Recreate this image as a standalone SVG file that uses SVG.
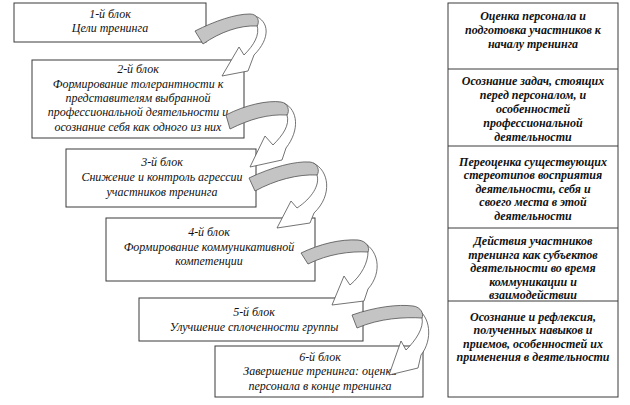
<svg xmlns="http://www.w3.org/2000/svg" width="630" height="405" viewBox="0 0 630 405">
<style>
.box{fill:#fff;stroke:#3a3a3a;stroke-width:1}
.t{font-family:"Liberation Serif","DejaVu Serif",serif;font-style:italic;font-size:12px;fill:#111;text-anchor:middle}
.r{font-family:"Liberation Serif","DejaVu Serif",serif;font-style:italic;font-weight:bold;font-size:12px;fill:#111;text-anchor:middle}
.aw{fill:#fff;stroke:#505050;stroke-width:0.8;stroke-linejoin:miter}
.ab{fill:#c4c4c4;stroke:#505050;stroke-width:0.8}
.div{stroke:#3a3a3a;stroke-width:1}
</style>
<rect width="630" height="405" fill="#fff"/>
<g id="block1">
<rect class="box" x="14" y="3" width="192" height="39"/>
<text class="t" x="110" y="18">1-й блок</text>
<text class="t" x="110" y="32">Цели тренинга</text>
</g>
<g id="block2">
<rect class="box" x="32" y="60" width="212" height="78"/>
<text class="t" x="138" y="73">2-й блок</text>
<text class="t" x="138" y="88">Формирование толерантности к</text>
<text class="t" x="138" y="102">представителям выбранной</text>
<text class="t" x="138" y="116">профессиональной деятельности и</text>
<text class="t" x="138" y="131">осознание себя как одного из них</text>
</g>
<g id="block3">
<rect class="box" x="66" y="149" width="190" height="58"/>
<text class="t" x="162" y="166">3-й блок</text>
<text class="t" x="162" y="181">Снижение и контроль агрессии</text>
<text class="t" x="162" y="196">участников тренинга</text>
</g>
<g id="block4">
<rect class="box" x="106" y="218" width="209" height="63"/>
<text class="t" x="209" y="236">4-й блок</text>
<text class="t" x="209" y="251">Формирование коммуникативной</text>
<text class="t" x="209" y="265">компетенции</text>
</g>
<g id="block5">
<rect class="box" x="139" y="298" width="224" height="43"/>
<text class="t" x="254" y="316">5-й блок</text>
<text class="t" x="254" y="331">Улучшение сплоченности группы</text>
</g>
<g id="block6">
<rect class="box" x="215" y="346" width="208" height="51"/>
<text class="t" x="320" y="361">6-й блок</text>
<text class="t" x="320" y="375">Завершение тренинга: оценка</text>
<text class="t" x="320" y="390">персонала в конце тренинга</text>
</g>
<g id="connectors">
<g id="arrow1">
<path class="aw" d="M255,16 C269,21 271,38 254,55 L248,71 L222,76 L239,47 L244,55 C254,45 260,35 257,25 Z"/>
<path class="ab" d="M195,31 C215,21 235,14 250,14 C258,14 260,22 257,26 C240,25 220,32 203,44 Z"/>
</g>
<g id="arrow2">
<path class="aw" d="M284,103 C298,110 300,130 286,148 L282,160 L250,167 L265,136 L273,145 C283,135 290,125 287,115 Z"/>
<path class="ab" d="M226,115 C245,105 268,100 281,102 C288,103 290,111 287,115 C268,114 250,119 230,129 Z"/>
</g>
<g id="arrow3">
<path class="aw" d="M313,163 C329,170 333,195 314,213 L310,223 L277,228 L291,201 L297,208 C312,198 320,185 317,175 Z"/>
<path class="ab" d="M249,178 C272,167 295,161 310,162 C318,163 320,171 317,175 C298,174 275,180 255,191 Z"/>
</g>
<g id="arrow4">
<path class="aw" d="M360,241 C379,248 383,272 368,289 L364,301 L332,305 L344,276 L350,285 C362,275 368,262 368,252 Z"/>
<path class="ab" d="M301,253 C320,244 340,239 358,240 C367,241 370,248 368,252 C350,251 328,254 308,264 Z"/>
</g>
<g id="arrow5">
<path class="aw" d="M415,308 C431,315 433,340 421,355 L418,368 L389,375 L401,341 L406,350 C416,340 424,328 422,318 Z"/>
<path class="ab" d="M352,315 C375,307 398,304 413,306 C421,307 424,314 422,318 C405,317 380,318 357,328 Z"/>
</g>
</g>
<g id="stages">
<rect class="box" x="448" y="3" width="170" height="394"/>
<line class="div" x1="448" y1="69" x2="618" y2="69"/>
<line class="div" x1="448" y1="146" x2="618" y2="146"/>
<line class="div" x1="448" y1="228" x2="618" y2="228"/>
<line class="div" x1="448" y1="301" x2="618" y2="301"/>
<g id="stage1">
<text class="r" x="533" y="20">Оценка персонала и</text>
<text class="r" x="533" y="34">подготовка участников к</text>
<text class="r" x="533" y="48">началу тренинга</text>
</g>
<g id="stage2">
<text class="r" x="533" y="85">Осознание задач, стоящих</text>
<text class="r" x="533" y="99">перед персоналом, и</text>
<text class="r" x="533" y="113">особенностей</text>
<text class="r" x="533" y="127">профессиональной</text>
<text class="r" x="533" y="141">деятельности</text>
</g>
<g id="stage3">
<text class="r" x="533" y="166">Переоценка существующих</text>
<text class="r" x="533" y="179">стереотипов восприятия</text>
<text class="r" x="533" y="193">деятельности, себя и</text>
<text class="r" x="533" y="206">своего места в этой</text>
<text class="r" x="533" y="220">деятельности</text>
</g>
<g id="stage4">
<text class="r" x="533" y="245">Действия участников</text>
<text class="r" x="533" y="259">тренинга как субъектов</text>
<text class="r" x="533" y="272">деятельности во время</text>
<text class="r" x="533" y="286">коммуникации и</text>
<text class="r" x="533" y="299">взаимодействии</text>
</g>
<g id="stage5">
<text class="r" x="533" y="321">Осознание и рефлексия,</text>
<text class="r" x="533" y="334">полученных навыков и</text>
<text class="r" x="533" y="348">приемов, особенностей их</text>
<text class="r" x="533" y="361">применения в деятельности</text>
</g>
</g>
</svg>
